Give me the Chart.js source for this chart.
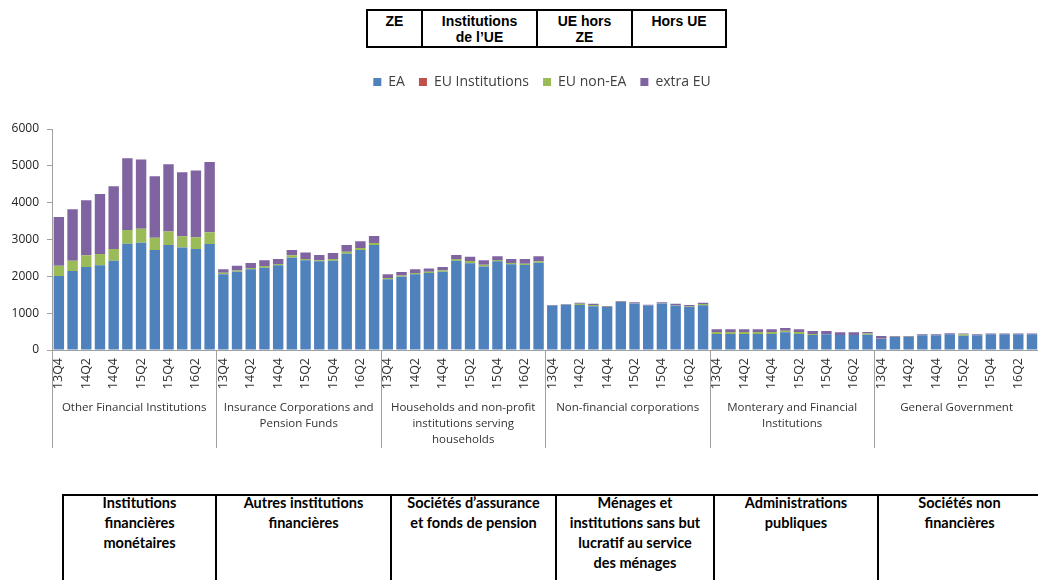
<!DOCTYPE html>
<html>
<head>
<meta charset="utf-8">
<script src="https://cdn.jsdelivr.net/npm/chart.js@4.4.1/dist/chart.umd.min.js"></script>
<style>
    html, body { margin: 0; padding: 0; width: 1038px; height: 580px; overflow: hidden; background: #fff; }
    #chartBox { position: absolute; left: 0; top: 61px; width: 1050px; height: 409px; }
    .cell { position: absolute; box-sizing: border-box; border: 2px solid #000; text-align: center; color: #000; }
    .top { top: 9px; height: 39px; font-family: "Liberation Sans", Arial, sans-serif; font-weight: bold; font-size: 14px; line-height: 16px; padding-top: 2px; }
    .bottom { top: 494px; height: 110px; font-family: Lato, "Open Sans", sans-serif; font-weight: bold; font-size: 14.5px; line-height: 20px; }
    .bottom div { margin-top: -3px; }
</style>
</head>
<body>

<!-- encadré du haut (traduction de la légende) -->
<div class="cell top" style="left:366px; width:57px;">ZE</div>
<div class="cell top" style="left:421px; width:117px;">Institutions<br>de l’UE</div>
<div class="cell top" style="left:536px; width:97px;">UE hors<br>ZE</div>
<div class="cell top" style="left:631px; width:96px;">Hors UE</div>

<div id="chartBox"><canvas id="flowChart"></canvas></div>

<!-- encadré du bas (traduction des secteurs) -->
<div class="cell bottom" style="left:62px; width:155px;"><div>Institutions<br>financières<br>monétaires</div></div>
<div class="cell bottom" style="left:215px; width:177px;"><div>Autres institutions<br>financières</div></div>
<div class="cell bottom" style="left:390px; width:167px;"><div>Sociétés d’assurance<br>et fonds de pension</div></div>
<div class="cell bottom" style="left:555px; width:160px;"><div>Ménages et<br>institutions sans but<br>lucratif au service<br>des ménages</div></div>
<div class="cell bottom" style="left:713px; width:166px;"><div>Administrations<br>publiques</div></div>
<div class="cell bottom" style="left:877px; width:165px;"><div>Sociétés non<br>financières</div></div>

<script>
// --- datos ---
const quarters = ['13Q4', '14Q1', '14Q2', '14Q3', '14Q4', '15Q1', '15Q2', '15Q3', '15Q4', '16Q1', '16Q2', '16Q3'];

const groupNames = [
    ['Other Financial Institutions'],
    ['Insurance Corporations and', 'Pension Funds'],
    ['Households and non-profit', 'institutions serving', 'households'],
    ['Non-financial corporations'],
    ['Monterary and Financial', 'Institutions'],
    ['General Government']
];

const yTicks = [0, 1000, 2000, 3000, 4000, 5000, 6000];

// una fila por sector, 12 trimestres cada una
const eaValues = [
    2010, 2145, 2255, 2300, 2425, 2885, 2915, 2715, 2850, 2780, 2740, 2880,
    2055, 2125, 2190, 2235, 2300, 2505, 2435, 2410, 2425, 2615, 2715, 2850,
    1920, 1990, 2055, 2090, 2125, 2425, 2355, 2265, 2410, 2325, 2310, 2370,
    1205, 1230, 1220, 1185, 1170, 1305, 1265, 1205, 1265, 1205, 1170, 1215,
    435, 435, 435, 435, 435, 480, 435, 405, 425, 405, 405, 415,
    300, 355, 355, 400, 400, 425, 390, 400, 425, 425, 425, 425
];
const euInstValues = [
    0, 0, 0, 0, 0, 0, 0, 0, 0, 0, 0, 0,
    0, 0, 0, 0, 0, 0, 0, 0, 0, 0, 0, 0,
    0, 0, 0, 0, 0, 0, 0, 0, 0, 0, 0, 0,
    0, 0, 0, 0, 0, 0, 0, 0, 0, 0, 0, 0,
    0, 0, 0, 0, 0, 0, 0, 0, 0, 0, 0, 0,
    0, 0, 0, 0, 0, 0, 0, 0, 0, 0, 0, 0
];
const euNonEaValues = [
    280, 280, 315, 305, 315, 375, 380, 335, 370, 305, 320, 315,
    45, 35, 35, 45, 35, 65, 35, 25, 45, 55, 55, 55,
    35, 35, 35, 35, 40, 45, 60, 50, 35, 35, 35, 40,
    5, 5, 35, 35, 5, 5, 5, 5, 5, 15, 10, 35,
    55, 55, 55, 55, 55, 45, 55, 30, 10, 5, 5, 35,
    5, 5, 5, 5, 5, 5, 35, 5, 5, 5, 5, 5
];
const extraEuValues = [
    1320, 1395, 1495, 1630, 1705, 1945, 1880, 1665, 1820, 1740, 1810, 1910,
    90, 130, 135, 155, 135, 145, 175, 145, 165, 180, 180, 190,
    100, 95, 100, 90, 90, 110, 120, 120, 100, 110, 125, 135,
    12, 15, 30, 38, 20, 20, 25, 20, 25, 38, 42, 35,
    70, 70, 70, 70, 70, 70, 70, 80, 80, 70, 70, 40,
    75, 20, 20, 20, 20, 25, 25, 20, 20, 20, 20, 20
];

const labels = groupNames.flatMap(() => quarters);

// espacio extra bajo la leyenda
const legendGap = {
    id: 'legendGap',
    beforeInit(chart) {
        const fit = chart.legend.fit;
        chart.legend.fit = function () {
            fit.call(this);
            this.height += 30;
        };
    },
    afterLayout(chart) {
        chart.legend.left += 17;
        chart.legend.right += 17;
    }
};

// nombres de sector y separadores bajo el eje X
const groupLabels = {
    id: 'groupLabels',
    afterDraw(chart) {
        const { ctx, chartArea, scales: { x } } = chart;
        const n = quarters.length;
        const step = x.getPixelForValue(1) - x.getPixelForValue(0);
        ctx.save();
        ctx.strokeStyle = '#a0a0a0';
        ctx.lineWidth = 1;
        ctx.fillStyle = '#333';
        ctx.font = '11.5px "Open Sans"';
        ctx.textAlign = 'center';
        ctx.textBaseline = 'middle';
        groupNames.forEach((lines, g) => {
            const left = x.getPixelForValue(g * n) - step / 2;
            const right = left + step * n;
            ctx.beginPath();
            ctx.moveTo(Math.round(left) + 0.5, chartArea.bottom);
            ctx.lineTo(Math.round(left) + 0.5, chartArea.bottom + 98);
            ctx.stroke();
            lines.forEach((txt, i) => ctx.fillText(txt, (left + right) / 2, chartArea.bottom + 58 + i * 16));
        });
        ctx.restore();
    }
};

new Chart(document.getElementById('flowChart'), {
    type: 'bar',
    data: {
        labels: labels,
        datasets: [
            { label: 'EA', data: eaValues, backgroundColor: '#4F81BD' },
            { label: 'EU Institutions', data: euInstValues, backgroundColor: '#C0504D' },
            { label: 'EU non-EA', data: euNonEaValues, backgroundColor: '#9BBB59' },
            { label: 'extra EU', data: extraEuValues, backgroundColor: '#8064A2' }
        ]
    },
    options: {
        responsive: true,
        maintainAspectRatio: false,
        animation: false,
        datasets: { bar: { barPercentage: 0.76, categoryPercentage: 1 } },
        layout: { padding: 0 },
        plugins: {
            legend: {
                position: 'top',
                labels: {
                    boxWidth: 8,
                    boxHeight: 8,
                    padding: 14,
                    color: '#404040',
                    font: { family: 'Open Sans', size: 14 }
                }
            },
            tooltip: { enabled: false }
        },
        scales: {
            x: {
                stacked: true,
                afterFit: (scale) => { scale.height = 120; },
                grid: { display: false, drawTicks: true, tickLength: 5 },
                border: { color: '#a0a0a0' },
                ticks: {
                    autoSkip: false,
                    maxRotation: 90,
                    minRotation: 90,
                    padding: 3,
                    color: '#333',
                    font: { family: 'Open Sans', size: 12.5 },
                    callback: function (val, idx) {
                        return idx % 2 === 0 ? this.getLabelForValue(val) : '';
                    }
                }
            },
            y: {
                stacked: true,
                min: 0,
                max: 6000,
                afterFit: (scale) => { scale.width = 52; },
                afterBuildTicks: (scale) => { scale.ticks = yTicks.map(v => ({ value: v })); },
                grid: { drawOnChartArea: false, tickLength: 5, color: '#a0a0a0' },
                border: { color: '#a0a0a0' },
                ticks: {
                    padding: 8,
                    color: '#222',
                    font: { family: 'Open Sans', size: 12 },
                    callback: (value) => String(value)
                }
            }
        }
    },
    plugins: [legendGap, groupLabels]
});
</script>
</body>
</html>
